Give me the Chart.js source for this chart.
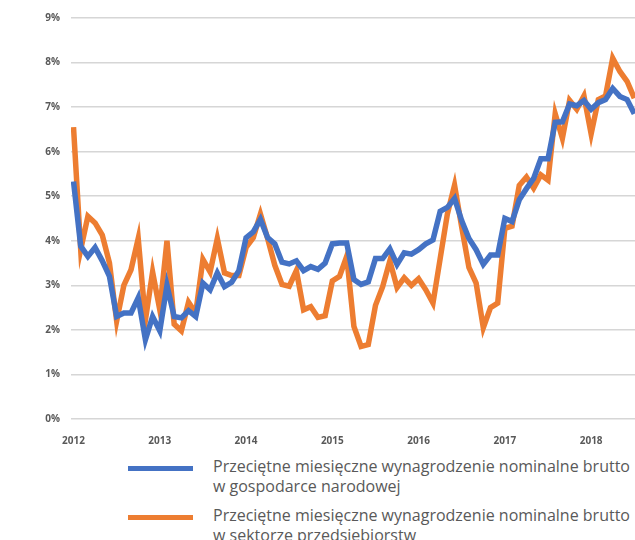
<!DOCTYPE html>
<html lang="pl">
<head>
<meta charset="utf-8">
<title>Wynagrodzenia</title>
<script src="https://cdn.jsdelivr.net/npm/chart.js@4.4.1/dist/chart.umd.min.js"></script>
<style>
    body { margin: 0; background: #fff; width: 635px; height: 540px; overflow: hidden; position: relative; font-family: 'Open Sans', sans-serif; }
    #ChartBox { position: absolute; left: 0; top: 0; width: 635px; height: 445px; }
    .swatch { position: absolute; left: 128px; width: 65px; height: 5px; }
    .label { position: absolute; left: 213px; font-size: 16px; line-height: 20px; color: #595959; white-space: nowrap; }
</style>
</head>
<body>
<div id="ChartBox"><canvas id="ChWynagrodzenia" width="635" height="445"></canvas></div>
<div id="Legenda"></div>

<script>
// miesiace od 2012-01 (indeks 0) do 2018-07 (indeks 78)
const YearLabels = ['2012', '2013', '2014', '2015', '2016', '2017', '2018'];
const YearTicks = [0, 12, 24, 36, 48, 60, 72];
const YTicks = [0, 1, 2, 3, 4, 5, 6, 7, 8, 9];

// dynamika r/r w %
const GospodarkaNarodowa = [
    5.33, 3.88, 3.65, 3.85, 3.55, 3.20, 2.30, 2.38, 2.38, 2.72, 1.78, 2.30,
    1.98, 3.00, 2.30, 2.27, 2.43, 2.30, 3.05, 2.90, 3.28, 2.97, 3.07, 3.33,
    4.07, 4.20, 4.48, 4.07, 3.93, 3.52, 3.48, 3.55, 3.33, 3.42, 3.36, 3.50,
    3.93, 3.95, 3.95, 3.13, 3.02, 3.08, 3.60, 3.60, 3.82, 3.47, 3.73, 3.70,
    3.80, 3.93, 4.02, 4.66, 4.75, 4.95, 4.45, 4.05, 3.80, 3.47, 3.68, 3.68,
    4.50, 4.43, 4.92, 5.17, 5.40, 5.84, 5.84, 6.66, 6.67, 7.07, 7.03, 7.15,
    6.95, 7.10, 7.17, 7.42, 7.24, 7.17, 6.85
];

const SektorPrzedsiebiorstw = [
    6.55, 3.80, 4.55, 4.40, 4.13, 3.50, 2.20, 3.00, 3.35, 4.05, 2.22, 3.30,
    2.45, 4.00, 2.13, 1.98, 2.62, 2.38, 3.58, 3.30, 4.05, 3.28, 3.22, 3.22,
    3.85, 4.07, 4.60, 4.05, 3.45, 3.02, 2.98, 3.33, 2.45, 2.52, 2.28, 2.32,
    3.10, 3.20, 3.65, 2.08, 1.63, 1.67, 2.55, 2.97, 3.55, 2.95, 3.17, 3.00,
    3.15, 2.90, 2.60, 3.60, 4.60, 5.25, 4.30, 3.40, 3.05, 2.05, 2.50, 2.60,
    4.28, 4.33, 5.24, 5.43, 5.18, 5.48, 5.36, 6.85, 6.30, 7.15, 6.95, 7.25,
    6.40, 7.17, 7.25, 8.10, 7.80, 7.58, 7.20
];

const SeriesNames = [
    ['Przeciętne miesięczne wynagrodzenie nominalne brutto', 'w gospodarce narodowej'],
    ['Przeciętne miesięczne wynagrodzenie nominalne brutto', 'w sektorze przedsiębiorstw']
];
const SeriesColors = ['#4472C4', '#ED7D31'];


const ToPoints = (Values) => Values.map((v, i) => ({ x: i, y: v }));

const TickFont = { family: "'Open Sans', sans-serif", size: 10, weight: 'bold' };

const InitLegenda = () => {
    const box = document.getElementById('Legenda');
    const tops = [456, 505];
    SeriesNames.forEach((name, k) => {
        box.insertAdjacentHTML('beforeend', `
            <div class="swatch" style="top:${tops[k] + 9.5}px;background:${SeriesColors[k]}"></div>
            <div class="label" style="top:${tops[k]}px">${name.join('<br>')}</div>
        `);
    });
};

const InitGrafica = () => {
    const ctx = document.getElementById('ChWynagrodzenia');
    new Chart(ctx, {
        type: 'line',
        data: {
            datasets: [
                {
                    label: SeriesNames[0].join(' '),
                    data: ToPoints(GospodarkaNarodowa),
                    borderColor: SeriesColors[0],
                    borderWidth: 5.5,
                    borderJoinStyle: 'miter',
                    pointRadius: 0,
                    tension: 0
                },
                {
                    label: SeriesNames[1].join(' '),
                    data: ToPoints(SektorPrzedsiebiorstw),
                    borderColor: SeriesColors[1],
                    borderWidth: 5.5,
                    borderJoinStyle: 'miter',
                    pointRadius: 0,
                    tension: 0
                }
            ]
        },
        options: {
            responsive: false,
            animation: false,
            layout: { padding: { top: 18, right: 0, left: 0, bottom: 0 } },
            plugins: {
                legend: { display: false },
                tooltip: { enabled: false }
            },
            scales: {
                x: {
                    type: 'linear',
                    min: -0.35,
                    max: 78.1,
                    grid: { display: false },
                    border: { display: false },
                    afterBuildTicks: (axis) => {
                        axis.ticks = YearTicks.map((v) => ({ value: v }));
                    },
                    afterFit: (axis) => { axis.height = 26; },
                    ticks: {
                        autoSkip: false,
                        maxRotation: 0,
                        padding: 8,
                        color: '#595959',
                        font: TickFont,
                        callback: (v) => YearLabels[YearTicks.indexOf(v)]
                    }
                },
                y: {
                    min: 0,
                    max: 9,
                    afterBuildTicks: (axis) => {
                        axis.ticks = YTicks.map((v) => ({ value: v }));
                    },
                    afterFit: (axis) => { axis.width = 71; },
                    grid: { color: '#d6d6d6', lineWidth: 1.5, drawTicks: false },
                    border: { display: false },
                    ticks: {
                        padding: 11,
                        color: '#595959',
                        font: TickFont,
                        callback: (v) => v + '%'
                    }
                }
            }
        }
    });
};

InitLegenda();
InitGrafica();
</script>
</body>
</html>
